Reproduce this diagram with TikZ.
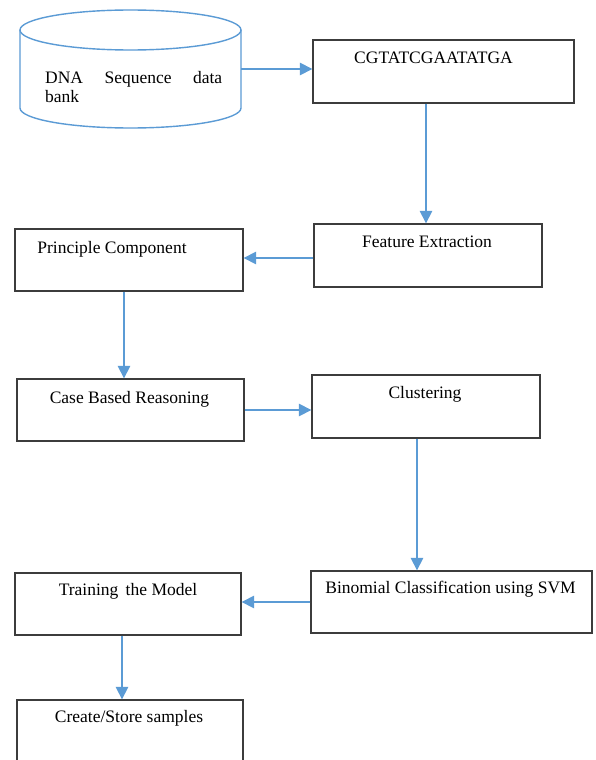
\documentclass[tikz,border=0pt]{standalone}
\usepackage{fontspec}
\setmainfont{Liberation Serif}
\usetikzlibrary{arrows.meta,calc}
\definecolor{arrowblue}{HTML}{5B9BD5}
\definecolor{boxgray}{HTML}{3C3C3C}
\begin{document}
\begin{tikzpicture}[x=1pt,y=1pt,
  procbox/.style={draw=boxgray,line width=1.3pt,inner sep=0pt,minimum height=62pt},
  boxtext/.style={anchor=base,inner sep=0pt,font=\fontsize{17.5}{19}\selectfont},
  flow/.style={draw=arrowblue,line width=1.2pt,-{Triangle[length=12.5pt,width=12.5pt]}},
  cylline/.style={draw=arrowblue,line width=1.4pt}]
\fill[white] (0,0) rectangle (596,-760);
\clip (0,0) rectangle (596,-760);

% database cylinder
\draw[cylline] (20,-30) -- (20,-108) arc[start angle=180,end angle=360,x radius=110.5pt,y radius=20pt] -- (241,-30);
\draw[cylline] (130.5,-30) ellipse [x radius=110.5pt,y radius=20pt];
\node[inner sep=0pt,minimum width=221pt,minimum height=118pt] (db) at (130.5,-69) {};
\node[anchor=base west,inner sep=0pt,font=\fontsize{17.5}{19}\selectfont] (dbt) at (45,-84)
  {\parbox[t]{177pt}{\baselineskip=19pt DNA\hfill Sequence\hfill data\\bank}};

% process boxes
\node[procbox,minimum width=261pt,minimum height=63pt] (b1) at (443.5,-71.5) {};
\node[procbox,minimum width=228pt,minimum height=63pt] (fe) at (428,-255.5) {};
\node[procbox,minimum width=228pt] (pc) at (129,-260) {};
\node[procbox,minimum width=227pt] (cbr) at (130.5,-410) {};
\node[procbox,minimum width=228pt,minimum height=63pt] (cl) at (426,-406.5) {};
\node[procbox,minimum width=281pt] (bin) at (451.5,-602) {};
\node[procbox,minimum width=226pt] (tr) at (128,-604) {};
\node[procbox,minimum width=226pt,minimum height=100pt] (cs) at (130,-750) {};

% texts
\node[boxtext] (b1t) at ($(b1.north)+(-10,-24)$) {CGTATCGAATATGA};
\node[boxtext] (fet) at ($(fe.north)+(-1,-24)$) {Feature Extraction};
\node[boxtext] (pct) at ($(pc.north)+(-17,-25)$) {Principle Component};
\node[boxtext] (cbrt) at ($(cbr.north)+(-1,-25)$) {Case Based Reasoning};
\node[boxtext] (clt) at ($(cl.north)+(-1,-24)$) {Clustering};
\node[boxtext] (bint) at ($(bin.north)+(-1,-23)$) {Binomial Classification using SVM};
\node[boxtext] (trt) at ($(tr.north)+(0,-23)$) {Training\, the Model};
\node[boxtext] (cst) at ($(cs.north)+(-1,-23)$) {Create/Store samples};

% connectors
\draw[flow] (db.east) -- (db.east -| b1.west);
\draw[flow] ([xshift=-17.5pt]b1.south) -- ([xshift=-17.5pt]b1.south |- fe.north);
\draw[flow] ([yshift=-2.5pt]fe.west) -- ([yshift=-2.5pt]fe.west -| pc.east);
\draw[flow] ([xshift=-5pt]pc.south) -- ([xshift=-5pt]pc.south |- cbr.north);
\draw[flow] (cbr.east) -- (cbr.east -| cl.west);
\draw[flow] ([xshift=-9pt]cl.south) -- ([xshift=-9pt]cl.south |- bin.north);
\draw[flow] (bin.west) -- (bin.west -| tr.east);
\draw[flow] ([xshift=-6pt]tr.south) -- ([xshift=-6pt]tr.south |- cs.north);
\end{tikzpicture}
\end{document}
